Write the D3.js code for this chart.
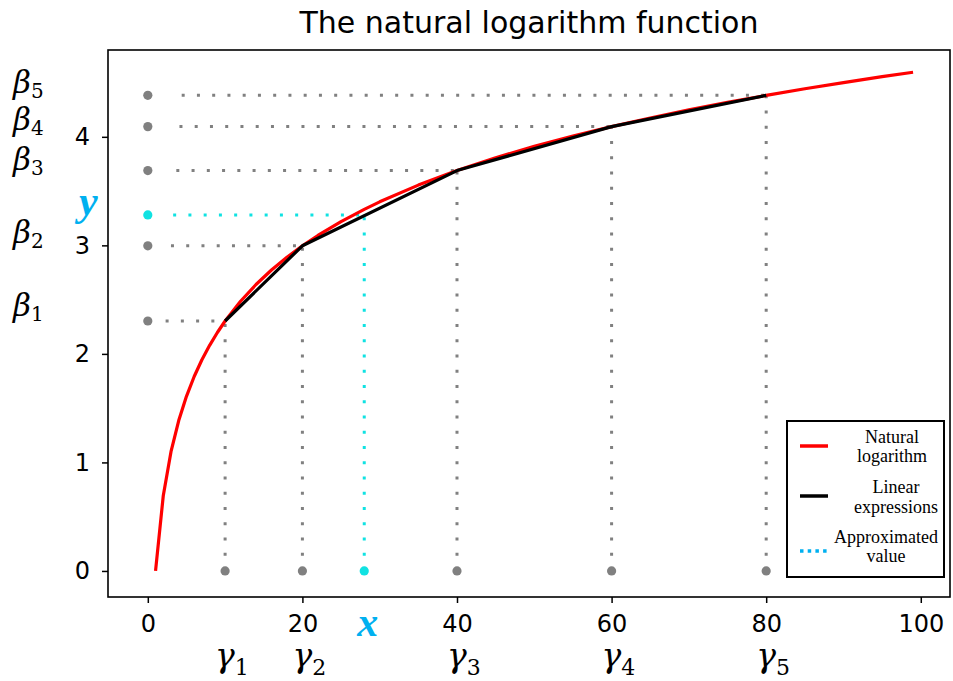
<!DOCTYPE html>
<html><head><meta charset="utf-8">
<script src="https://cdn.jsdelivr.net/npm/d3@7"></script>
<style>body{margin:0;background:#fff}svg{display:block}</style>
</head><body>
<svg id="c" width="953" height="681"></svg>
<script>
// ---- data ----
const curveX = [1,2,3,4,5,6,7,8,9,10,12,14,16,18,20,22,25,28,30,35,40,45,50,55,60,65,70,75,80,85,90,95,99];
const curveY = [0,0.693,1.099,1.386,1.609,1.792,1.946,2.079,2.197,2.303,2.485,2.639,2.773,2.890,2.996,3.091,3.219,3.332,3.401,3.555,3.689,3.807,3.912,4.007,4.094,4.174,4.248,4.317,4.382,4.443,4.500,4.554,4.595];
const gammaX = [10,20,40,60,80];
const betaY = [2.303,2.996,3.689,4.094,4.382];
const betaLabelY = [2.35,3.02,3.69,4.065,4.405];
const approxX = 28;
const approxY = 3.28;
const xTicks = [0,20,40,60,80,100];
const yTicks = [0,1,2,3,4];
const gammaLabels = ["1","2","3","4","5"];
const betaLabels = ["1","2","3","4","5"];
const legendItems = [
  {lines:["Natural","logarithm"], color:"red", dash:null},
  {lines:["Linear","expressions"], color:"black", dash:null},
  {lines:["Approximated","value"], color:"#00b0f0", dash:"3.5 4.2"}
];

// ---- layout ----
const L=108,R=950,T=50,B=597;
const svg = d3.select("#c");
const x = d3.scaleLinear().domain([-5.15,103.78]).range([L,R]);
const y = d3.scaleLinear().domain([-0.24,4.80]).range([B,T]);
const gray="#808080", cyan="#10e2e2", blue="#00b0f0";

// title
svg.append("text").attr("x",(L+R)/2).attr("y",33).attr("text-anchor","middle")
  .style("font-family","DejaVu Sans").style("font-size","30px").text("The natural logarithm function");

const g = svg.append("g");

// dotted guide lines
const dash="3 12.25";
gammaX.forEach((gx,i)=>{
  const by=betaY[i];
  g.append("line").attr("x1",x(gx)).attr("x2",x(gx)).attr("y1",y(0)).attr("y2",y(by))
    .attr("stroke",gray).attr("stroke-width",3).attr("stroke-dasharray",dash);
  g.append("line").attr("x1",x(by)).attr("x2",x(gx)).attr("y1",y(by)).attr("y2",y(by))
    .attr("stroke",gray).attr("stroke-width",3).attr("stroke-dasharray",dash);
});
g.append("line").attr("x1",x(approxX)).attr("x2",x(approxX)).attr("y1",y(0)).attr("y2",y(approxY))
  .attr("stroke",cyan).attr("stroke-width",3).attr("stroke-dasharray",dash);
g.append("line").attr("x1",x(approxY)).attr("x2",x(approxX)).attr("y1",y(approxY)).attr("y2",y(approxY))
  .attr("stroke",cyan).attr("stroke-width",3).attr("stroke-dasharray",dash);

// red curve
const line = d3.line().x(d=>x(d[0])).y(d=>y(d[1]));
g.append("path").datum(curveX.map((v,i)=>[v,curveY[i]])).attr("d",line)
  .attr("fill","none").attr("stroke","red").attr("stroke-width",3.2).attr("stroke-linejoin","round");
// black piecewise linear
g.append("path").datum(gammaX.map((v,i)=>[v,betaY[i]])).attr("d",line)
  .attr("fill","none").attr("stroke","black").attr("stroke-width",3.2).attr("stroke-linejoin","round");

// markers
gammaX.forEach(v=>g.append("circle").attr("cx",x(v)).attr("cy",y(0)).attr("r",4.6).attr("fill",gray));
betaY.forEach(v=>g.append("circle").attr("cx",x(0)).attr("cy",y(v)).attr("r",4.6).attr("fill",gray));
g.append("circle").attr("cx",x(approxX)).attr("cy",y(0)).attr("r",4.6).attr("fill",cyan);
g.append("circle").attr("cx",x(0)).attr("cy",y(approxY)).attr("r",4.6).attr("fill",cyan);

// axes
const xa = svg.append("g").attr("transform",`translate(0,${B})`)
  .call(d3.axisBottom(x).tickValues(xTicks).tickSize(6).tickPadding(12).tickFormat(d3.format("d")));
const ya = svg.append("g").attr("transform",`translate(${L},0)`)
  .call(d3.axisLeft(y).tickValues(yTicks).tickSize(6).tickPadding(12).tickFormat(d3.format("d")));
[xa,ya].forEach(a=>{
  a.select(".domain").remove();
  a.selectAll(".tick line").attr("stroke","black").attr("stroke-width",1.5);
  a.selectAll(".tick text").style("font-family","DejaVu Sans").style("font-size","24px").attr("fill","black");
});
svg.append("rect").attr("x",L).attr("y",T).attr("width",R-L).attr("height",B-T)
  .attr("fill","none").attr("stroke","black").attr("stroke-width",1.6);

// greek labels
betaLabelY.forEach((v,i)=>{
  const t=svg.append("text").attr("x",13).attr("y",y(v))
    .style("font-family","DejaVu Serif").style("font-style","italic").style("font-size","31px");
  t.append("tspan").text("β");
  t.append("tspan").attr("dy",5).style("font-style","normal").style("font-size","20px").text(betaLabels[i]);
});
gammaX.forEach((v,i)=>{
  const t=svg.append("text").attr("x",x(v)-10).attr("y",667)
    .style("font-family","DejaVu Serif").style("font-style","italic").style("font-size","33px");
  t.append("tspan").text("γ");
  t.append("tspan").attr("dy",8).style("font-style","normal").style("font-size","22px").text(gammaLabels[i]);
});
svg.append("text").attr("x",x(approxX)-7).attr("y",636).attr("fill",blue)
  .style("font-family","Liberation Serif").style("font-style","italic").style("font-weight","bold")
  .style("font-size","42px").text("x");
svg.append("text").attr("x",79).attr("y",y(approxY)).attr("fill",blue)
  .style("font-family","Liberation Serif").style("font-style","italic").style("font-weight","bold")
  .style("font-size","42px").text("y");

// legend
const lg = svg.append("g");
lg.append("rect").attr("x",787).attr("y",421).attr("width",157).attr("height",156)
  .attr("fill","white").attr("stroke","black").attr("stroke-width",2);
const entryY=[446,496,551];
const textBase=[[443,462],[493,513],[543,562]];
const textCx=[892,896,886];
legendItems.forEach((it,i)=>{
  const l=lg.append("line").attr("x1",800).attr("x2",828).attr("y1",entryY[i]).attr("y2",entryY[i])
    .attr("stroke",it.color).attr("stroke-width",3.5);
  if(it.dash) l.attr("stroke-dasharray",it.dash);
  it.lines.forEach((s,j)=>{
    lg.append("text").attr("x",textCx[i]).attr("y",textBase[i][j]).attr("text-anchor","middle")
      .style("font-family","Liberation Serif").style("font-size","18px").text(s);
  });
});
</script>
</body></html>
